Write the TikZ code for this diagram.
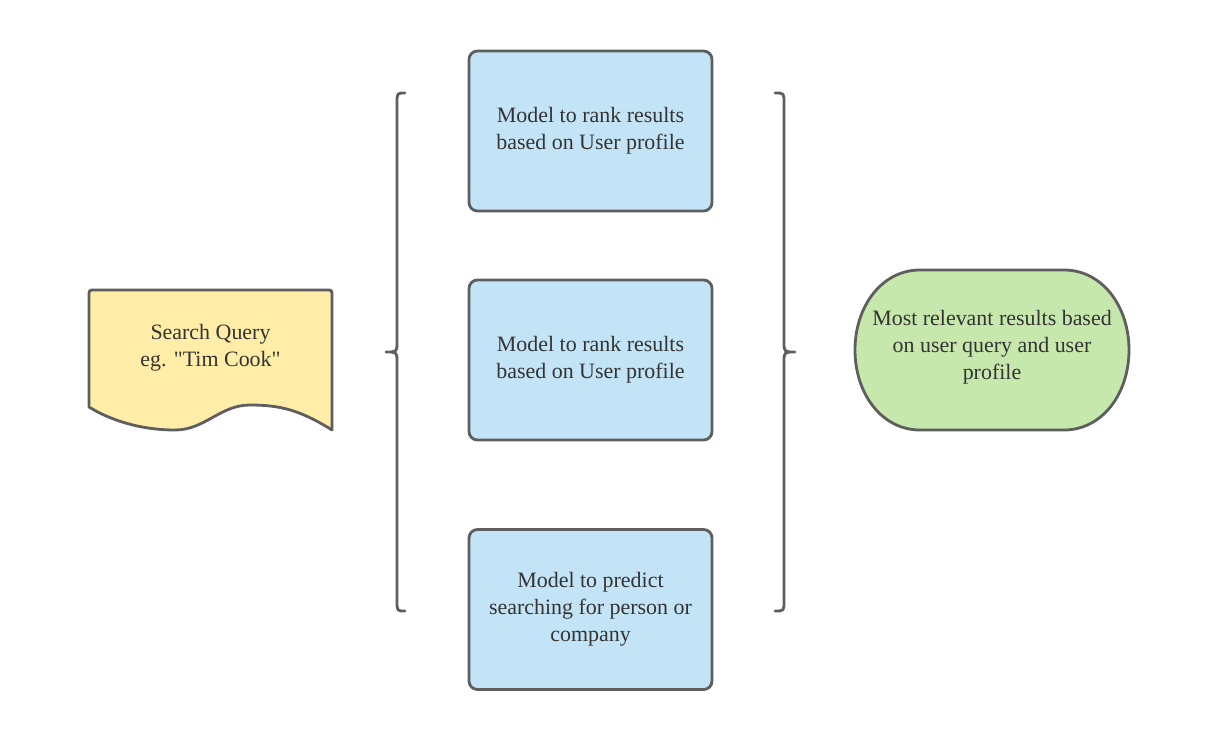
\documentclass[tikz,border=0pt]{standalone}
\usepackage{fontspec}
\setmainfont{Liberation Serif}[Ligatures=TeXOff]

\begin{document}
\begin{tikzpicture}[x=0.025cm, y=-0.025cm,
  line width=2pt, line join=round, line cap=round,
  txt/.style={text=black!80, align=center, font=\fontsize{15.6}{19.1}\selectfont},
  modelbox/.style={txt, draw=black!63, fill=mblue, rounded corners=6,
    minimum width=243*0.025cm, minimum height=160*0.025cm}]
  \useasboundingbox (0,0) rectangle (1230,729);
  \definecolor{qyellow}{HTML}{FFEDA8}
  \definecolor{rgreen}{HTML}{C7E8AC}
  \definecolor{mblue}{HTML}{C3E4F6}

  % search query (document shape)
  \draw[black!63, fill=qyellow]
    (89,407) -- (89,296) .. controls (89,290) .. (95,290) -- (326,290)
    .. controls (332,290) .. (332,296) -- (332,430)
    .. controls (300,410) and (280,405) .. (250,405)
    .. controls (220,405) and (205,430) .. (175,430)
    .. controls (140,430) and (110,420) .. (89,407) -- cycle;
  \node[txt] (query) at (210.5,348) {Search Query\\eg. "Tim Cook"};

  % models
  \node[modelbox] (rank1) at (590.5,131) {Model to rank results\\based on User profile};
  \node[modelbox] (rank2) at (590.5,360) {Model to rank results\\based on User profile};
  \node[modelbox] (predict) at (590.5,609.5) {Model to predict\\searching for person or\\company};

  % braces
  \draw[black!63] (405,93) .. controls (397,93) .. (397,103) -- (397,342)
    .. controls (397,352) .. (386,352) .. controls (397,352) .. (397,362)
    -- (397,601) .. controls (397,611) .. (405,611);
  \draw[black!63] (775,93) .. controls (784,93) .. (784,103) -- (784,342)
    .. controls (784,352) .. (795,352) .. controls (784,352) .. (784,362)
    -- (784,601) .. controls (784,611) .. (775,611);

  % result (terminator)
  \draw[black!63, fill=rgreen] (920,270) -- (1064,270)
    .. controls (1102,270) and (1129,306) .. (1129,350)
    .. controls (1129,394) and (1102,430) .. (1064,430) -- (920,430)
    .. controls (882,430) and (855,394) .. (855,350)
    .. controls (855,306) and (882,270) .. (920,270) -- cycle;
  \node[txt] (result) at (992,347) {Most relevant results based\\on user query and user\\profile};
\end{tikzpicture}
\end{document}
